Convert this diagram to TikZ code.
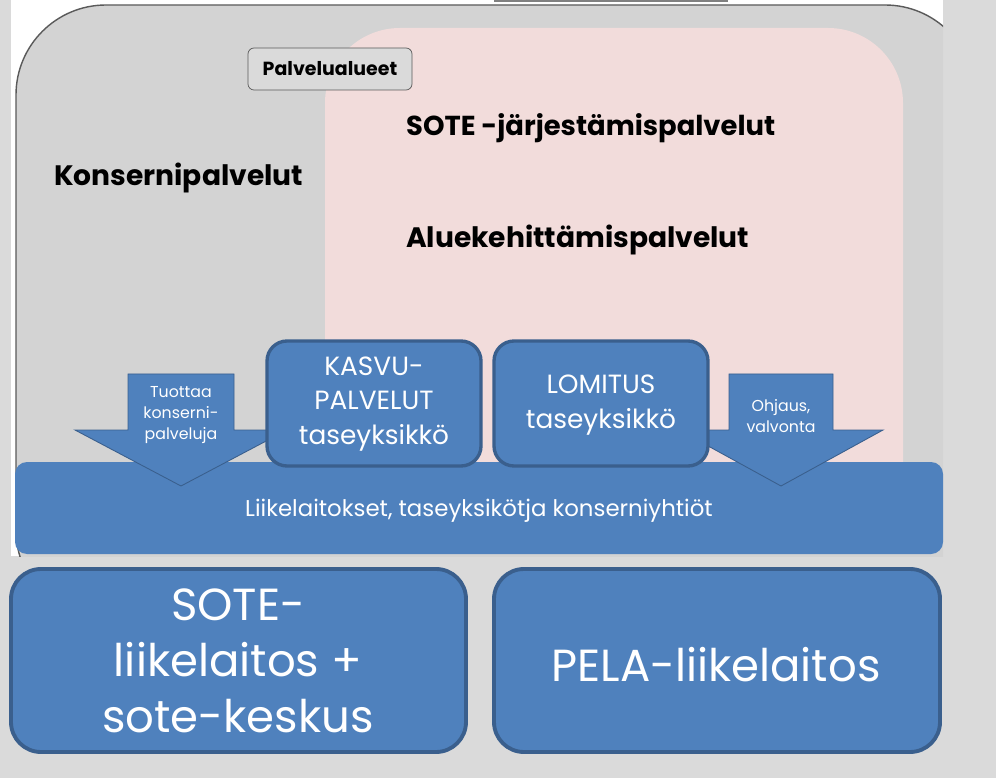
\documentclass[tikz,border=0pt]{standalone}
\usepackage{fontspec}
\setmainfont{Poppins}

\definecolor{outergray}{HTML}{DADADA}
\definecolor{panelgray}{HTML}{D3D3D3}
\definecolor{panelline}{HTML}{5A5A5A}
\definecolor{sotepink}{HTML}{F2DCDB}
\definecolor{unitblue}{HTML}{4F81BD}
\definecolor{unitline}{HTML}{3A5F8D}

\tikzset{
  unitbox/.style={draw=unitline, line width=1.9pt, fill=unitblue},
  bigtext/.style={text=white, align=center, font=\fontsize{25.6}{32}\selectfont},
  midtext/.style={text=white, align=center, font=\fontsize{15}{19.5}\selectfont},
  smalltext/.style={text=white, align=center, font=\fontsize{9}{12}\selectfont},
  headtext/.style={anchor=west, font=\bfseries\fontsize{16}{20}\selectfont},
  downarrow/.style={fill=unitblue, draw=unitline, line width=0.5pt}
}

\begin{document}
\begin{tikzpicture}[x=0.2mm,y=-0.2mm]
    \useasboundingbox (0,0) rectangle (996,778);
    \fill[outergray] (0,0) rectangle (996,778);
    \fill[white] (11,0) rectangle (943,556);
    \draw[gray, fill=white, line width=0.8pt] (495,-20) rectangle (727,1);
    \begin{scope}
      \clip (0,0) rectangle (943,556);
      \draw[panelline, fill=panelgray, line width=0.8pt, rounded corners=18mm] (16,5) rectangle (975,620);
    \end{scope}
    \fill[sotepink, rounded corners=15mm] (325,28) rectangle (903,540);

    \node[draw=panelline, fill=outergray, rounded corners=1.2mm, minimum width=164*0.2mm,
      minimum height=42*0.2mm, font=\fontsize{10.8}{12}\selectfont\bfseries] (alueet) at (330,69) {Palvelualueet};
    \node[headtext, font=\bfseries\fontsize{15.6}{20}\selectfont] (jarjestamis) at (400,128) {SOTE -järjestämispalvelut};
    \node[headtext] (kehittamis) at (400,240) {Aluekehittämispalvelut};
    \node[headtext] (konserni) at (48,178) {Konsernipalvelut};

    \fill[unitblue, rounded corners=2.4mm] (15,462) rectangle (943,554);
    \node[text=white, font=\fontsize{13}{15}\selectfont] (liikelaitokset) at (479,511)
      {Liikelaitokset, taseyksikötja konserniyhtiöt};

    \draw[downarrow] (128,374) -- (234,374) -- (234,430) -- (287,430) -- (181,486)
      -- (75,430) -- (128,430) -- cycle;
    \node[smalltext] (tuottaa) at (181,415) {Tuottaa\\konserni-\\palveluja};
    \draw[downarrow] (729,374) -- (833,374) -- (833,430) -- (883,430) -- (781,486)
      -- (679,430) -- (729,430) -- cycle;
    \node[smalltext] (ohjaus) at (781,416) {Ohjaus,\\valvonta};

    \draw[unitbox, rounded corners=4mm] (267,341) rectangle (481,466);
    \node[midtext] (kasvu) at (374,404) {KASVU-\\PALVELUT\\taseyksikkö};
    \draw[unitbox, rounded corners=4mm] (494,341) rectangle (708,466);
    \node[midtext] (lomitus) at (601,405) {LOMITUS\\taseyksikkö};

    \draw[unitbox, line width=2.2pt, rounded corners=6mm] (11,569) rectangle (466,752);
    \node[bigtext] (sote) at (238,661) {SOTE-\\liikelaitos +\\sote-keskus};
    \draw[unitbox, line width=2.2pt, rounded corners=6mm] (494,569) rectangle (940,752);
    \node[bigtext] (pela) at (716,665) {PELA-liikelaitos};
\end{tikzpicture}
\end{document}
